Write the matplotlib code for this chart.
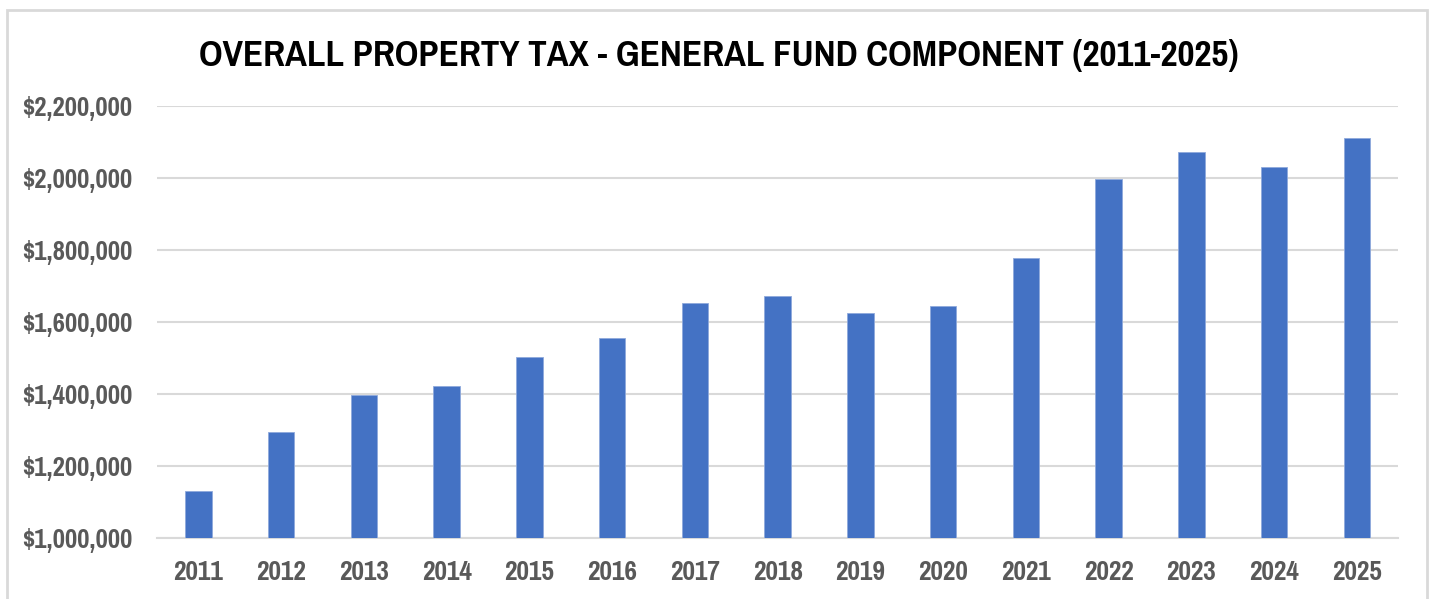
import matplotlib
matplotlib.use("Agg")
import matplotlib.pyplot as plt
from matplotlib.ticker import FuncFormatter
from matplotlib.patches import Rectangle

years = ["2011", "2012", "2013", "2014", "2015", "2016", "2017", "2018",
         "2019", "2020", "2021", "2022", "2023", "2024", "2025"]
tax = [1130000, 1295000, 1397000, 1421000, 1503000, 1556000, 1652000, 1673000,
       1625000, 1645000, 1778000, 1998000, 2071000, 2030000, 2111000]

plt.rcParams["font.family"] = ["Pragati Narrow", "DejaVu Sans"]

fig = plt.figure(figsize=(14.34, 5.99), dpi=100)
ax = fig.add_axes([0.1095, 0.1018, 0.8655, 0.7212])

x = range(len(years))
ax.bar(x, tax, width=0.32, color="#4472c4", edgecolor="#8fa9dc", linewidth=0.6, zorder=3)

ax.set_xlim(-0.5, len(years) - 0.5)
ax.set_ylim(1000000, 2200000)
ax.set_yticks(range(1000000, 2200001, 200000))
ax.yaxis.set_major_formatter(FuncFormatter(lambda v, p: "${:,.0f}".format(v)))
ax.set_xticks(list(x))
ax.set_xticklabels(years)
ax.grid(axis="y", color="#d9d9d9", linewidth=1.5, zorder=0)
for s in ["top", "right", "left"]:
    ax.spines[s].set_visible(False)
ax.spines["bottom"].set_color("#d9d9d9")
ax.spines["bottom"].set_linewidth(1.5)
ax.tick_params(length=0, colors="#595959", labelsize=21)
ax.tick_params(axis="x", pad=16, labelsize=21.5)
ax.tick_params(axis="y", pad=18)
for lab in ax.get_xticklabels() + ax.get_yticklabels():
    lab.set_fontweight("bold")

fig.text(0.501, 0.908, "OVERALL PROPERTY TAX - GENERAL FUND COMPONENT (2011-2025)",
         ha="center", va="center", fontsize=29, fontweight="bold", color="black")

fig.patches.append(Rectangle((7 / 1434, -0.05), 1420 / 1434, 1.05 - 10 / 599,
                             transform=fig.transFigure, fill=False,
                             edgecolor="#d9d9d9", linewidth=2))

fig.savefig("out.png", dpi=100)
